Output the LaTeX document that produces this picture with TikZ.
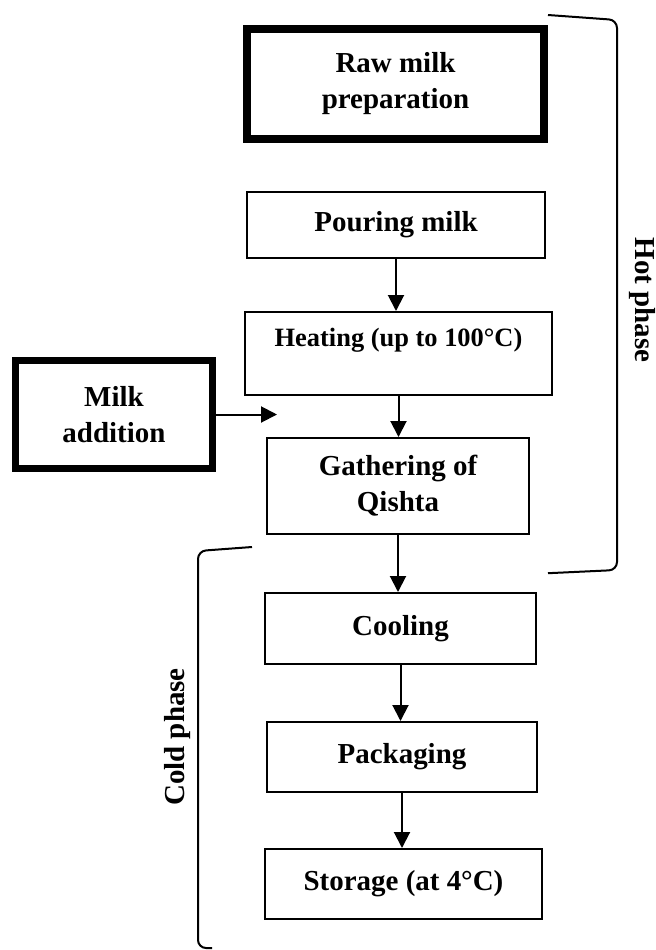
\documentclass[tikz,border=0pt]{standalone}
\usepackage{fontspec}
\setmainfont{Liberation Serif}
\usepackage{tikz}
\usetikzlibrary{arrows.meta}

\begin{document}
\begin{tikzpicture}[>={Triangle[width=0.4cm,length=0.4cm]}]
    \tikzstyle{box} = [draw,line width=0.05cm,inner sep=0pt,align=center,
      font=\fontsize{20.6}{25.6}\selectfont\bfseries]
    \tikzstyle{bigbox} = [box,line width=0.2cm]
    \tikzstyle{flow} = [->,line width=0.05cm]
    \tikzstyle{phase} = [line width=0.05cm,rounded corners=0.2cm]
    \useasboundingbox (0,0) rectangle (16.4,-23.75);
    % hot phase
    \node[bigbox,minimum width=7.425cm,minimum height=2.75cm] (raw) at (9.8875,-2.1) {Raw milk\\preparation};
    \node[box,minimum width=7.45cm,minimum height=1.65cm] (pour) at (9.9,-5.625) {Pouring milk};
    \node[box,minimum width=7.675cm,minimum height=2.075cm,text depth=0.8cm,
      font=\fontsize{18.8}{23}\selectfont\bfseries] (heat) at (9.9625,-8.8375) {Heating (up to 100°C)};
    \node[bigbox,line width=0.175cm,minimum width=4.925cm,minimum height=2.7cm] (milk) at (2.85,-10.3625) {Milk\\addition};
    \coordinate (add) at (6.925,-10.3625);
    \node[box,minimum width=6.55cm,minimum height=2.4cm] (gath) at (9.95,-12.15) {Gathering of\\Qishta};
    % cold phase
    \node[box,minimum width=6.775cm,minimum height=1.775cm] (cool) at (10.0125,-15.7125) {Cooling};
    \node[box,minimum width=6.75cm,minimum height=1.75cm] (pack) at (10.05,-18.925) {Packaging};
    \node[box,minimum width=6.925cm,minimum height=1.75cm] (stor) at (10.0875,-22.1) {Storage (at 4°C)};
    \draw[flow] (pour.south) -- (pour.south |- heat.north);
    \draw[flow] (heat.south) -- (heat.south |- gath.north);
    \draw[flow] (milk.east) -- (add);
    \draw[flow] (gath.south) -- (gath.south |- cool.north);
    \draw[flow] (cool.south) -- (cool.south |- pack.north);
    \draw[flow] (pack.south) -- (pack.south |- stor.north);
    % braces
    \draw[phase] (13.7,-0.375) -- (15.425,-0.5) -- (15.425,-14.25) -- (13.7,-14.33);
    \draw[phase] (6.3,-13.675) -- (4.95,-13.775) -- (4.95,-23.7) -- (5.3,-23.7);
    \node[rotate=-90,font=\fontsize{20.6}{25.6}\selectfont\bfseries] (hot) at (16.05,-7.5) {Hot phase};
    \node[rotate=90,font=\fontsize{20.6}{25.6}\selectfont\bfseries] (cold) at (4.45,-18.425) {Cold phase};
\end{tikzpicture}
\end{document}
